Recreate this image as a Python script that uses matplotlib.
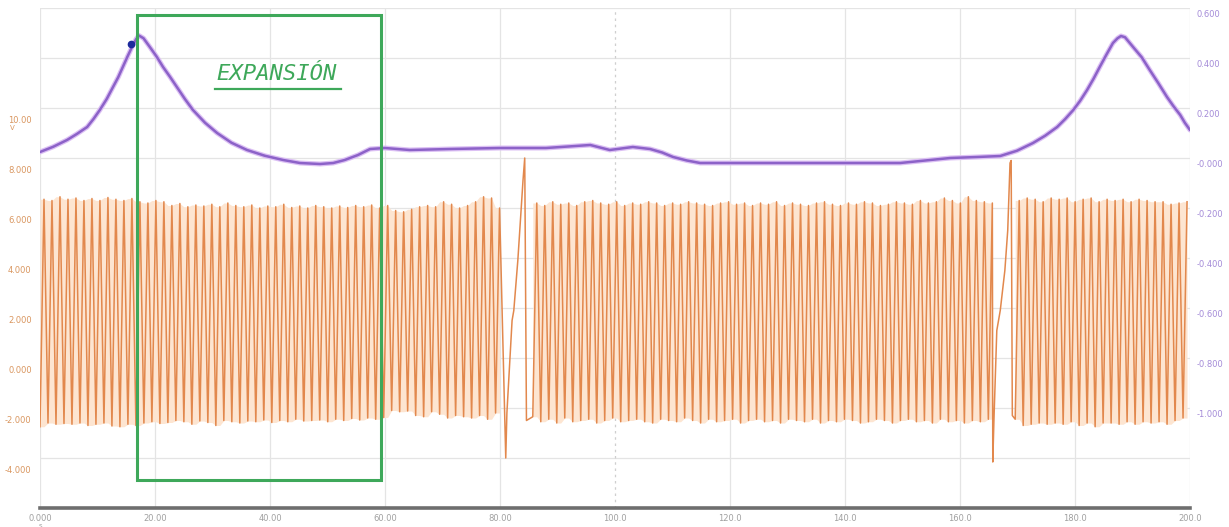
import matplotlib
matplotlib.use("Agg")
import matplotlib.pyplot as plt
from matplotlib.patches import Rectangle

# ---------------- data ----------------
x_ticks = [0, 20, 40, 60, 80, 100, 120, 140, 160, 180, 200]
x_tick_labels = ["0.000", "20.00", "40.00", "60.00", "80.00", "100.0",
                 "120.0", "140.0", "160.0", "180.0", "200.0"]
left_ticks = [10, 8, 6, 4, 2, 0, -2, -4]
left_tick_labels = ["10.00", "8.000", "6.000", "4.000", "2.000", "0.000", "-2.000", "-4.000"]
right_ticks = [0.6, 0.4, 0.2, 0.0, -0.2, -0.4, -0.6, -0.8, -1.0]
right_tick_labels = ["0.600", "0.400", "0.200", "-0.000", "-0.200", "-0.400",
                     "-0.600", "-0.800", "-1.000"]

# purple signal (right axis)
purple_t = [0.0, 2.3, 4.7, 6.4, 8.2, 9.3, 10.4, 11.6, 12.7, 13.6, 14.4, 15.2, 16.0,
            16.7, 17.2, 18.0, 19.1, 20.3, 21.4, 22.6, 23.8, 25.2, 26.6, 28.7, 30.8,
            33.3, 36.0, 39.1, 42.3, 45.2, 48.7, 51.0, 53.0, 55.3, 57.4, 60.0, 64.3,
            71.3, 80.0, 88.0, 95.7, 99.1, 103.1, 106.1, 108.2, 110.1, 112.5, 114.8,
            132.2, 149.6, 158.3, 163.0, 167.0, 169.9, 172.7, 174.8, 176.9, 178.3,
            179.7, 180.9, 182.1, 183.2, 184.3, 185.5, 186.6, 187.4, 188.0, 188.7,
            190.1, 191.6, 193.0, 194.5, 196.0, 197.1, 198.3, 199.1, 200.0]
purple_v = [0.024, 0.045, 0.072, 0.096, 0.124, 0.156, 0.192, 0.236, 0.284, 0.323,
            0.364, 0.405, 0.444, 0.475, 0.490, 0.479, 0.444, 0.405, 0.364, 0.325,
            0.284, 0.236, 0.192, 0.141, 0.100, 0.061, 0.032, 0.009, -0.008, -0.020,
            -0.024, -0.020, -0.008, 0.012, 0.036, 0.040, 0.032, 0.036, 0.040, 0.040,
            0.052, 0.032, 0.044, 0.036, 0.022, 0.004, -0.010, -0.020, -0.020, -0.020,
            0.000, 0.004, 0.008, 0.029, 0.060, 0.089, 0.124, 0.156, 0.192, 0.229,
            0.272, 0.316, 0.364, 0.415, 0.460, 0.479, 0.488, 0.483, 0.444, 0.403,
            0.352, 0.299, 0.244, 0.208, 0.172, 0.141, 0.112]
cursor_t, cursor_v = 15.8, 0.456

# orange signal (left axis): per-cycle peaks of three regular segments
period = 1.39
seg1_start = 0.0
seg1_tops = [6.35, 6.30, 6.45, 6.35, 6.40, 6.30, 6.38, 6.30, 6.42, 6.35, 6.30, 6.38, 6.25,
             6.20, 6.30, 6.25, 6.10, 6.18, 6.05, 6.12, 6.08, 6.15, 6.05, 6.20, 6.10, 6.05,
             6.12, 6.00, 6.08, 6.05, 6.15, 6.02, 6.08, 6.00, 6.10, 6.05, 6.00, 6.08, 6.02,
             6.10, 6.05, 6.12, 6.00, 6.10,
             5.90, 5.85, 5.95, 6.05, 6.10, 6.05, 6.25, 6.15, 6.00, 6.10, 6.25, 6.45, 6.40, 6.00]
seg1_bots = [-2.75, -2.60, -2.65, -2.62, -2.65, -2.60, -2.70, -2.65, -2.60, -2.72, -2.75, -2.65, -2.70,
             -2.60, -2.55, -2.62, -2.58, -2.50, -2.55, -2.65, -2.52, -2.58, -2.70, -2.50, -2.55, -2.60,
             -2.52, -2.55, -2.48, -2.58, -2.50, -2.55, -2.45, -2.52, -2.50, -2.48, -2.55, -2.45, -2.50,
             -2.42, -2.48, -2.40, -2.45, -2.38,
             -2.10, -2.15, -2.12, -2.30, -2.35, -2.15, -2.25, -2.40, -2.30, -2.35, -2.40, -2.30, -2.45, -2.20]
glitch1_t = [81.0, 81.2, 82.1, 82.4, 83.1, 84.0, 84.3, 84.6]
glitch1_v = [-4.0, -2.2, 1.5, 1.9, 3.9, 7.1, 8.0, -2.5]
seg2_start = 85.7
seg2_tops = [6.20, 6.10, 6.25, 6.15, 6.20, 6.10, 6.25, 6.30, 6.20, 6.15, 6.25, 6.10, 6.20, 6.15,
             6.25, 6.20, 6.10, 6.20, 6.15, 6.25, 6.20, 6.15, 6.10, 6.20, 6.25, 6.15, 6.20, 6.10,
             6.20, 6.15, 6.25, 6.10, 6.20, 6.15, 6.10, 6.20, 6.25, 6.15, 6.10, 6.20, 6.15, 6.25,
             6.20, 6.10, 6.15, 6.25, 6.20, 6.15, 6.30, 6.20, 6.25, 6.40, 6.30, 6.20, 6.45, 6.30,
             6.25, 6.20]
seg2_bots = [-2.35, -2.55, -2.45, -2.60, -2.40, -2.55, -2.50, -2.45, -2.60, -2.50, -2.40, -2.55, -2.50, -2.45,
             -2.55, -2.60, -2.45, -2.50, -2.55, -2.40, -2.50, -2.60, -2.45, -2.55, -2.50, -2.45, -2.60, -2.50,
             -2.45, -2.55, -2.50, -2.60, -2.45, -2.50, -2.55, -2.45, -2.60, -2.50, -2.55, -2.45, -2.50, -2.60,
             -2.55, -2.45, -2.50, -2.60, -2.50, -2.45, -2.55, -2.50, -2.60, -2.45, -2.55, -2.50, -2.60, -2.50,
             -2.55, -2.45]
glitch2_t = [165.7, 165.9, 166.4, 167.0, 167.8, 168.3, 168.7, 168.9, 169.1]
glitch2_v = [-4.16, -2.5, 1.1, 1.9, 3.5, 5.1, 7.8, 7.9, -2.3]
seg3_start = 169.6
seg3_tops = [6.30, 6.40, 6.35, 6.25, 6.40, 6.35, 6.40, 6.25, 6.35, 6.40, 6.25, 6.35, 6.30,
             6.35, 6.25, 6.35, 6.30, 6.25, 6.25, 6.15, 6.20, 6.25]
seg3_bots = [-2.45, -2.70, -2.65, -2.60, -2.65, -2.60, -2.65, -2.55, -2.70, -2.60, -2.75, -2.60, -2.60,
             -2.65, -2.55, -2.65, -2.55, -2.60, -2.55, -2.65, -2.50, -2.40]

box_t = (16.9, 59.3)
box_v = (-4.88, 13.72)
label_text = "EXPANSIÓN"

# ---------------- build the orange line ----------------
def cycles(start, tops, bots):
    tt, vv = [], []
    for i, (tp, bt) in enumerate(zip(tops, bots)):
        t0 = start + i * period
        tt += [t0, t0 + 0.5 * period]
        vv += [bt, tp]
    return tt, vv

def pairs(vals):
    return [v for v in vals for _ in (0, 1)]

s1t, s1v = cycles(seg1_start, seg1_tops, seg1_bots)
s2t, s2v = cycles(seg2_start, seg2_tops, seg2_bots)
s3t, s3v = cycles(seg3_start, seg3_tops, seg3_bots)
orange_t = s1t + glitch1_t + s2t + glitch2_t + s3t
orange_v = s1v + glitch1_v + s2v + glitch2_v + s3v

# ---------------- figure ----------------
fig = plt.figure(figsize=(12.29, 5.27), dpi=100)
ax = fig.add_axes([40 / 1229, 19 / 527, 1150 / 1229, 500 / 527])
ax.set_xlim(0, 200)
ax.set_ylim(-6, 14)
ax2 = ax.twinx()
ax2.set_ylim(-1.4, 0.6)

for a in (ax, ax2):
    for s in a.spines.values():
        s.set_visible(False)
    a.set_yticks([])
ax.spines["bottom"].set_visible(True)
ax.spines["bottom"].set_color("#6e6e6e")
ax.spines["bottom"].set_linewidth(2.6)

# grid
for g in range(-4, 15, 2):
    ax.axhline(g, color="#e4e4e4", lw=0.9, zorder=0)
for xv in x_ticks:
    if xv == 100:
        ax.axvline(xv, color="#cfcfcf", lw=0.9, ls=(0, (2, 3)), zorder=0)
    else:
        ax.axvline(xv, color="#e4e4e4", lw=0.9, zorder=0)

# x ticks
ax.set_xticks(x_ticks)
ax.set_xticklabels(x_tick_labels)
ax.tick_params(axis="x", length=0, pad=4, labelsize=6, labelcolor="#a0a0a0")
ax.text(0, -0.03, "s", transform=ax.get_xaxis_transform(), ha="center", va="top",
        fontsize=5, color="#a0a0a0", clip_on=False)

# left labels (drawn slightly below their grid lines)
for v, lab in zip(left_ticks, left_tick_labels):
    ax.annotate(lab, xy=(0, v), xycoords=("axes fraction", "data"),
                xytext=(-6, -9), textcoords="offset points", ha="right", va="center",
                fontsize=6, color="#d9965f")
ax.annotate("V", xy=(0, 10), xycoords=("axes fraction", "data"),
            xytext=(-20, -14.5), textcoords="offset points", ha="center", va="center",
            fontsize=5, color="#d9965f")
# right labels
for v, lab in zip(right_ticks, right_tick_labels):
    ax2.annotate(lab, xy=(1, v), xycoords=("axes fraction", "data"),
                 xytext=(5, -5), textcoords="offset points", ha="left", va="center",
                 fontsize=6, color="#a48bd8")

# orange signal
for st, tops, bots in ((s1t, seg1_tops, seg1_bots), (s2t, seg2_tops, seg2_bots),
                       (s3t, seg3_tops, seg3_bots)):
    ax.fill_between(st, pairs(bots), pairs(tops), color="#fde5d1", lw=0, zorder=1)
ax.plot(orange_t, orange_v, color="#e2884d", lw=1.1, zorder=2)

# purple signal
ax2.plot(purple_t, purple_v, color="#dcc0f4", lw=3.6, zorder=3,
         solid_capstyle="round", solid_joinstyle="round")
ax2.plot(purple_t, purple_v, color="#8c62c8", lw=1.8, zorder=4,
         solid_capstyle="round", solid_joinstyle="round")
ax2.plot([cursor_t], [cursor_v], "o", color="#1c2a9c", ms=4.5, zorder=5)

# annotation box
ax2.add_patch(Rectangle((box_t[0], box_v[0]), box_t[1] - box_t[0], box_v[1] - box_v[0],
                        transform=ax.transData, fill=False, edgecolor="#3ea85a",
                        lw=2.2, zorder=6, clip_on=False))
ax2.text(41.2, 11.35, label_text, transform=ax.transData, ha="center", va="center",
         fontsize=16, family="DejaVu Sans Mono", style="italic", color="#3ea85a", zorder=6)
ax2.plot([30.4, 52.3], [10.75, 10.75], transform=ax.transData, color="#3ea85a", lw=1.6, zorder=6)

fig.savefig("out.png", dpi=100)
